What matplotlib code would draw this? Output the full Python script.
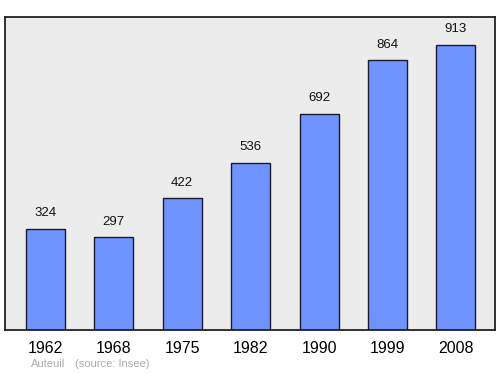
import matplotlib.pyplot as plt

annees = ['1962', '1968', '1975', '1982', '1990', '1999', '2008']
population = [324, 297, 422, 536, 692, 864, 913]
commune = 'Auteuil'
source = '(source: Insee)'

plt.rcParams['font.family'] = ['Liberation Sans', 'DejaVu Sans']

fig = plt.figure(figsize=(5, 3.74), dpi=100)
ax = fig.add_axes([0.01, 0.1176, 0.98, 0.837])
ax.set_facecolor('#ececec')

x = list(range(len(annees)))
ax.bar(x, population, width=0.57, color='#7094ff', edgecolor='#1a1a2e', linewidth=1.0, zorder=2)

for xi, v in zip(x, population):
    ax.annotate(str(v), (xi, v), xytext=(0, 7), textcoords='offset points',
                ha='center', va='bottom', fontsize=9.5, color='#111111')

ax.set_xlim(-0.59, 6.57)
ax.set_ylim(0, 1003)
ax.set_yticks([])
ax.set_xticks(x)
ax.set_xticklabels(annees, fontsize=11.5)
ax.tick_params(axis='x', length=0, pad=8)
for s in ax.spines.values():
    s.set_linewidth(1.3)
    s.set_color('#222222')

fig.text(0.062, 0.027, commune, fontsize=8, color='#aaaaaa', va='center')
fig.text(0.15, 0.027, source, fontsize=8, color='#aaaaaa', va='center')

fig.savefig('out.png', dpi=100)
